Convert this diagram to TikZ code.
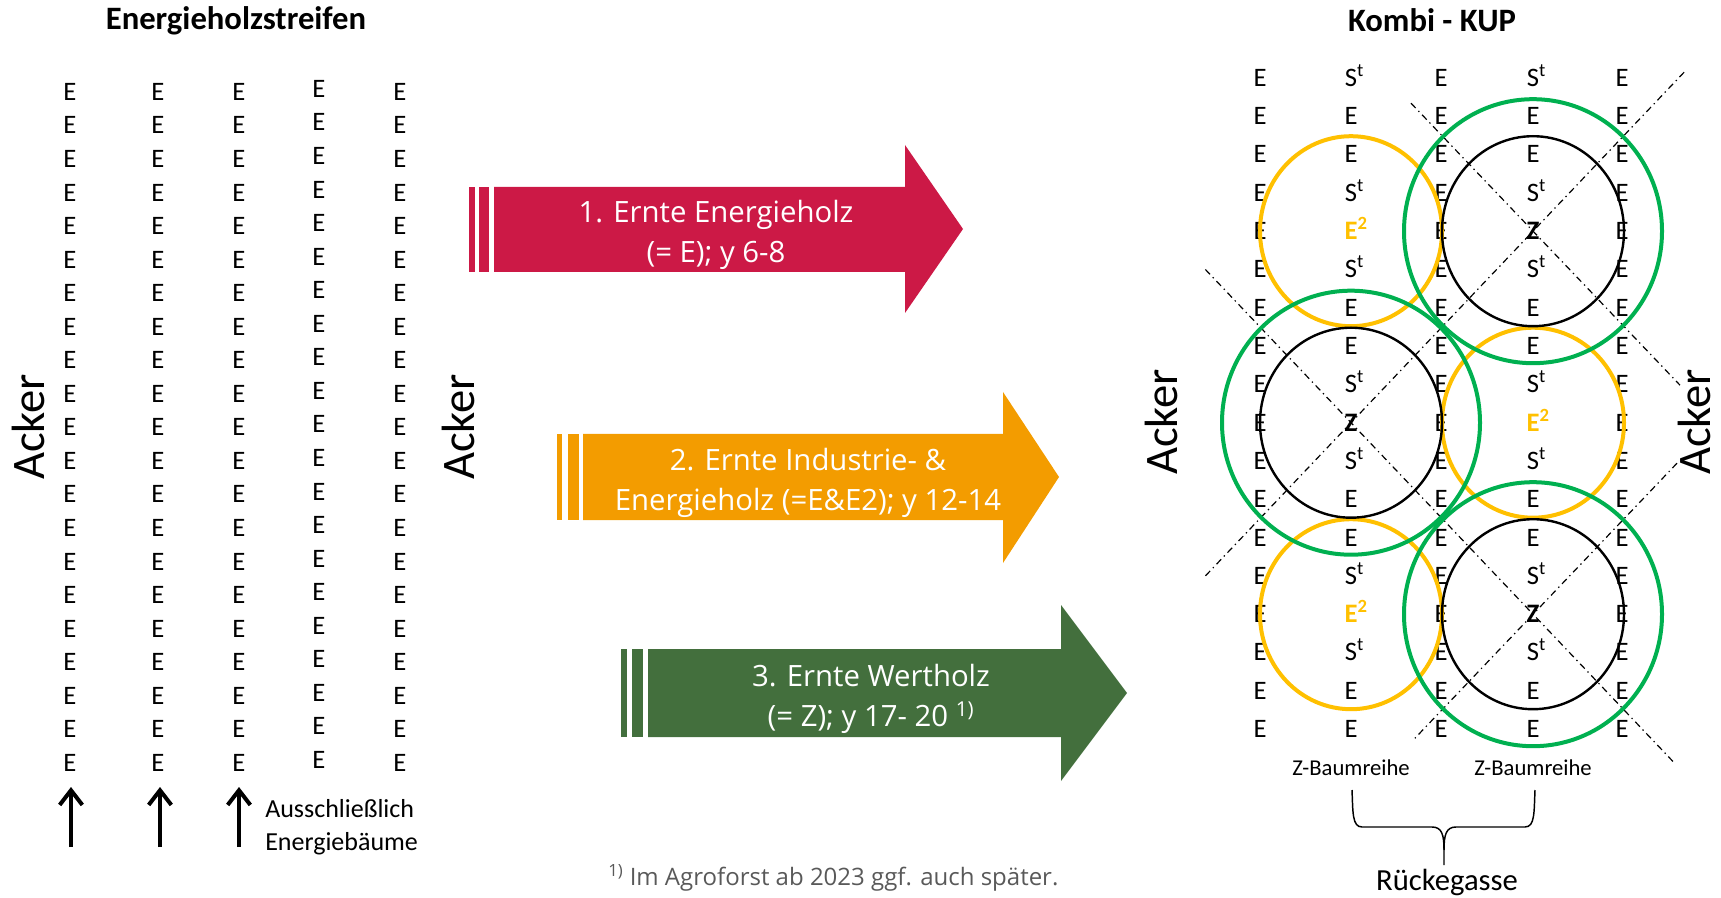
\documentclass[tikz,border=0pt]{standalone}
\usepackage{fontspec}
\setmainfont{Carlito}
\newfontfamily\pfeilfont{Open Sans}
\usetikzlibrary{arrows.meta,calc}

\definecolor{ernteRot}{HTML}{CC1946}
\definecolor{ernteOrange}{HTML}{F39C00}
\definecolor{ernteGruen}{HTML}{436F3D}
\definecolor{kreisGold}{HTML}{FFC000}
\definecolor{kreisGruen}{HTML}{00B050}
\definecolor{fussGrau}{HTML}{595959}

\newcommand{\baumSt}{S\rlap{\textsuperscript{t}}}
\newcommand{\baumEz}{\textbf{\color{kreisGold}E\rlap{\textsuperscript{2}}}}
\newcommand{\baumZ}{\textbf{Z}}

\begin{document}
\begin{tikzpicture}[x=0.75pt,y=-0.75pt]
		\tikzset{baum/.style = {font=\fontsize{20}{21}\selectfont, inner sep=0pt, text height=12.6pt, text depth=0pt},
			acker/.style = {font=\fontsize{35}{38}\selectfont, rotate=90, inner sep=0pt},
			titel/.style = {font=\bfseries\fontsize{24.5}{26}\selectfont},
			ernte/.style = {font=\pfeilfont\fontsize{22}{30}\selectfont, text=white, align=center, inner sep=0pt},
			pfeil/.style = {line width=3pt, -{Straight Barb[length=11pt,width=17pt]}},
			kreisE/.style = {draw=kreisGold, line width=3pt},
			kreisZ/.style = {draw=black, line width=1.8pt},
			kreisG/.style = {draw=kreisGruen, line width=3pt},
			achse/.style = {dash pattern=on 5pt off 3pt on 1pt off 3pt, line width=0.9pt},
			klammer/.style = {line width=1.1pt}}

		\useasboundingbox (0,0) rectangle (1721,898);

		% Energieholzstreifen
		\node[titel] (t1) at (236,21) {Energieholzstreifen};
		\foreach \c/\x/\d in {1/70/0, 2/158/0, 3/239/0, 4/319/-3, 5/400/0}
			\foreach \r in {1,...,21}
				\node[baum] (L\c-\r) at (\x, {92+(\r-1)*33.55+\d}) {E};

		\foreach \c/\x in {1/71, 2/160, 3/239} {
			\coordinate (P\c) at (\x,847);
			\coordinate (Q\c) at (\x,787);
			\draw[pfeil] (P\c) -- (Q\c);
		}
		\node[anchor=west, align=left, inner sep=0pt, font=\fontsize{19.5}{25}\selectfont] (ausschl) at (265,827) {Ausschließlich\\Energiebäume};

		\node[acker] (a1) at (28,427) {Acker};
		\node[acker] (a2) at (458,427) {Acker};

		% Ernten
		\fill[ernteRot] (469,187) rectangle (475,272);
		\fill[ernteRot] (479,187) rectangle (489,272);
		\fill[ernteRot] (494,187) -- (905,187) -- (905,145) -- (963,229) -- (905,313) -- (905,272) -- (494,272) -- cycle;
		\node[ernte] (e1) at (716,235) {1. Ernte Energieholz\\(= E); y 6-8};

		\fill[ernteOrange] (557,434) rectangle (562,520);
		\fill[ernteOrange] (568,434) rectangle (579,520);
		\fill[ernteOrange] (583,434) -- (1003,434) -- (1003,392) -- (1059,477) -- (1003,563) -- (1003,520) -- (583,520) -- cycle;
		\node[ernte] (e2) at (808,483) {2. Ernte Industrie- \&\\Energieholz (=E\&E2); y 12-14};

		\fill[ernteGruen] (621,649) rectangle (627,737);
		\fill[ernteGruen] (632,649) rectangle (643,737);
		\fill[ernteGruen] (648,649) -- (1061,649) -- (1061,605) -- (1127,693) -- (1061,781) -- (1061,737) -- (648,737) -- cycle;
		\node[ernte] (e3) at (871,699) {3. Ernte Wertholz\\(= Z); y 17- 20 \textsuperscript{1)}};

		\node[anchor=west, inner sep=0pt, text=fussGrau, font=\pfeilfont\fontsize{18}{20}\selectfont] (fn) at (608,878) {\textsuperscript{1)} Im Agroforst ab 2023 ggf. auch später.};

		% Kombi - KUP
		\node[titel] (t2) at (1432,20) {Kombi - KUP};
		\foreach \c/\x in {1/1260, 3/1441, 5/1622}
			\foreach \r in {1,...,18}
				\node[baum] (R\c-\r) at (\x, {78+(\r-1)*38.3}) {E};
		\foreach \r/\t in {1/\baumSt, 2/E, 3/E, 4/\baumSt, 5/\baumEz, 6/\baumSt, 7/E, 8/E, 9/\baumSt,
				10/\baumZ, 11/\baumSt, 12/E, 13/E, 14/\baumSt, 15/\baumEz, 16/\baumSt, 17/E, 18/E}
			\node[baum] (R2-\r) at (1351, {78+(\r-1)*38.3}) {\t};
		\foreach \r/\t in {1/\baumSt, 2/E, 3/E, 4/\baumSt, 5/\baumZ, 6/\baumSt, 7/E, 8/E, 9/\baumSt,
				10/\baumEz, 11/\baumSt, 12/E, 13/E, 14/\baumSt, 15/\baumZ, 16/\baumSt, 17/E, 18/E}
			\node[baum] (R4-\r) at (1533, {78+(\r-1)*38.3}) {\t};

		\node[acker] (a3) at (1161,422) {Acker};
		\node[acker] (a4) at (1694,422) {Acker};

		\draw[achse] ($(R4-5)+(-122,-128)$) -- ($(R4-5)+(147,154)$);
		\draw[achse] ($(R4-5)!-0.83!(R2-10)$) -- ($(R4-5)!1.8!(R2-10)$);
		\draw[achse] ($(R2-10)!-0.8!(R4-15)$) -- ($(R2-10)!1.78!(R4-15)$);
		\draw[achse] ($(R4-15)+(144,-151)$) -- ($(R4-15)+(-119,125)$);

		\draw[kreisE] (R2-5) ellipse [x radius=68.25pt, y radius=71.25pt];
		\draw[kreisE] (R4-10) ellipse [x radius=68.25pt, y radius=71.25pt];
		\draw[kreisE] (R2-15) ellipse [x radius=68.25pt, y radius=71.25pt];
		\draw[kreisZ] (R4-5) ellipse [x radius=68.25pt, y radius=71.25pt];
		\draw[kreisZ] (R2-10) ellipse [x radius=68.25pt, y radius=71.25pt];
		\draw[kreisZ] (R4-15) ellipse [x radius=68.25pt, y radius=71.25pt];
		\draw[kreisG] (R4-5) ellipse [x radius=96.75pt, y radius=99pt];
		\draw[kreisG] (R2-10) ellipse [x radius=96.75pt, y radius=99pt];
		\draw[kreisG] (R4-15) ellipse [x radius=96.75pt, y radius=99pt];

		\node[inner sep=0pt, font=\fontsize{17}{18}\selectfont] (zb1) at (1351,768) {Z-Baumreihe};
		\node[inner sep=0pt, font=\fontsize{17}{18}\selectfont] (zb2) at (1533,768) {Z-Baumreihe};
		\coordinate (k1) at (1352,790);
		\coordinate (k2) at (1535,790);
		\coordinate (kt) at (1444,865);
		\draw[klammer] (k1) .. controls (1353,812) and (1352,827) .. (1362,827) -- (1432,827) .. controls (1442,827) and (1444,835) .. (1444,850) -- (kt);
		\draw[klammer] (k2) .. controls (1534,812) and (1535,827) .. (1525,827) -- (1456,827) .. controls (1446,827) and (1444,835) .. (1444,850);
		\node[inner sep=0pt, font=\fontsize{23}{24}\selectfont] (rg) at (1447,882) {Rückegasse};

	\end{tikzpicture}
\end{document}
